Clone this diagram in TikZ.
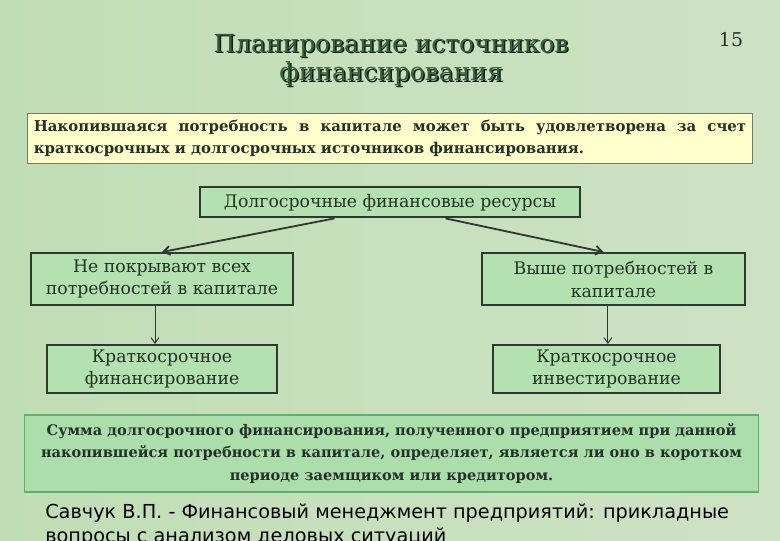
\documentclass[tikz,border=0pt]{standalone}
\usepackage{fontspec}
\setmainfont{DejaVu Serif}
\setsansfont{DejaVu Sans}
\usetikzlibrary{positioning,arrows.meta,calc}

\definecolor{bgleft}{RGB}{192,222,182}
\definecolor{bgright}{RGB}{206,226,196}
\definecolor{boxfill}{RGB}{180,225,176}
\definecolor{boxline}{RGB}{45,58,48}
\definecolor{textdark}{RGB}{35,50,40}
\definecolor{titlegreen}{RGB}{52,96,62}
\definecolor{titleshade}{RGB}{18,30,20}
\definecolor{notefill}{RGB}{255,255,204}
\definecolor{noteline}{RGB}{120,120,100}
\definecolor{sumfill}{RGB}{172,222,172}
\definecolor{sumline}{RGB}{95,175,115}
\definecolor{arrowgray}{RGB}{50,55,50}

\begin{document}
\begin{tikzpicture}[
  x=0.025cm, y=-0.025cm,
  heading/.style={align=center, font=\fontsize{17.7}{20.5}\selectfont, inner sep=0pt},
  resbox/.style={draw=boxline, line width=1.4pt, fill=boxfill, text=textdark, align=center, inner sep=0pt, font=\fontsize{12.3}{16.3}\selectfont},
  note/.style={draw=noteline, line width=0.6pt, fill=notefill, text=textdark, text width=17.8cm, align=justify, inner xsep=0.15cm, minimum height=1.25cm, font=\bfseries\fontsize{10.6}{15.6}\selectfont},
  summary/.style={draw=sumline, line width=0.8pt, fill=sumfill, text=textdark, align=center, minimum width=18.325cm, minimum height=1.925cm, font=\bfseries\fontsize{10.35}{16}\selectfont},
  link/.style={-{Straight Barb[length=1.6mm, width=2.2mm]}, line width=1.3pt, draw=arrowgray},
  down/.style={-{Straight Barb[length=1.4mm, width=2mm]}, line width=0.7pt, draw=arrowgray}
]
% Background
\fill[left color=bgleft, right color=bgright] (0,0) rectangle (780,540);
\useasboundingbox (0,0) rectangle (780,540);

% Title with shadow
\node[heading, text=titleshade] (titleshadow) at (392.5,61.5) {Планирование источников\\финансирования};
\node[heading, text=titlegreen] (title) at (391,60) {Планирование источников\\финансирования};
\node[font=\fontsize{13.5}{16}\selectfont, text=textdark] (page) at (731,40) {15};

% Statement
\node[note] (need) at (390,138) {Накопившаяся потребность в капитале может быть удовлетворена за счет\linebreak краткосрочных и долгосрочных источников финансирования.};

% Tree of resources
\node[resbox, minimum width=9.475cm, minimum height=0.75cm, below=0.575cm of need] (lt) {Долгосрочные финансовые ресурсы};
\node[resbox, minimum width=6.55cm, minimum height=1.3cm] (nl) at (162,279) {Не покрывают всех\\потребностей в капитале};
\node[resbox, minimum width=6.575cm, minimum height=1.3cm] (nr) at (613.5,279) {Выше потребностей в\\капитале};
\node[resbox, minimum width=5.725cm, minimum height=1.2cm, below=0.95cm of nl] (fl) {Краткосрочное\\финансирование};
\node[resbox, minimum width=5.675cm, minimum height=1.2cm, below=0.95cm of nr, xshift=-0.175cm] (fr) {Краткосрочное\\инвестирование};

% Arrows
\draw[link] ([xshift=-1.39cm]lt.south) -- (nl.north);
\draw[link] ([xshift=1.39cm]lt.south) -- ([xshift=-0.25cm]nr.north);
\draw[down] ([xshift=-0.175cm]nl.south) -- ([xshift=-0.175cm]nl.south |- fl.north);
\draw[down] ([xshift=-0.14cm]nr.south) -- ([xshift=-0.14cm]nr.south |- fr.north);

% Conclusion
\node[summary] (sum) at (391.5,453.5) {Сумма долгосрочного финансирования, полученного предприятием при данной\\накопившейся потребности в капитале, определяет, является ли оно в коротком\\периоде заемщиком или кредитором.};

% Source
\node[anchor=north west, align=left, inner sep=0pt, text=black, font=\sffamily\fontsize{13.7}{17}\selectfont] (cite) at (45,504) {Савчук В.П. - Финансовый менеджмент предприятий: прикладные\\вопросы с анализом деловых ситуаций};
\end{tikzpicture}
\end{document}
